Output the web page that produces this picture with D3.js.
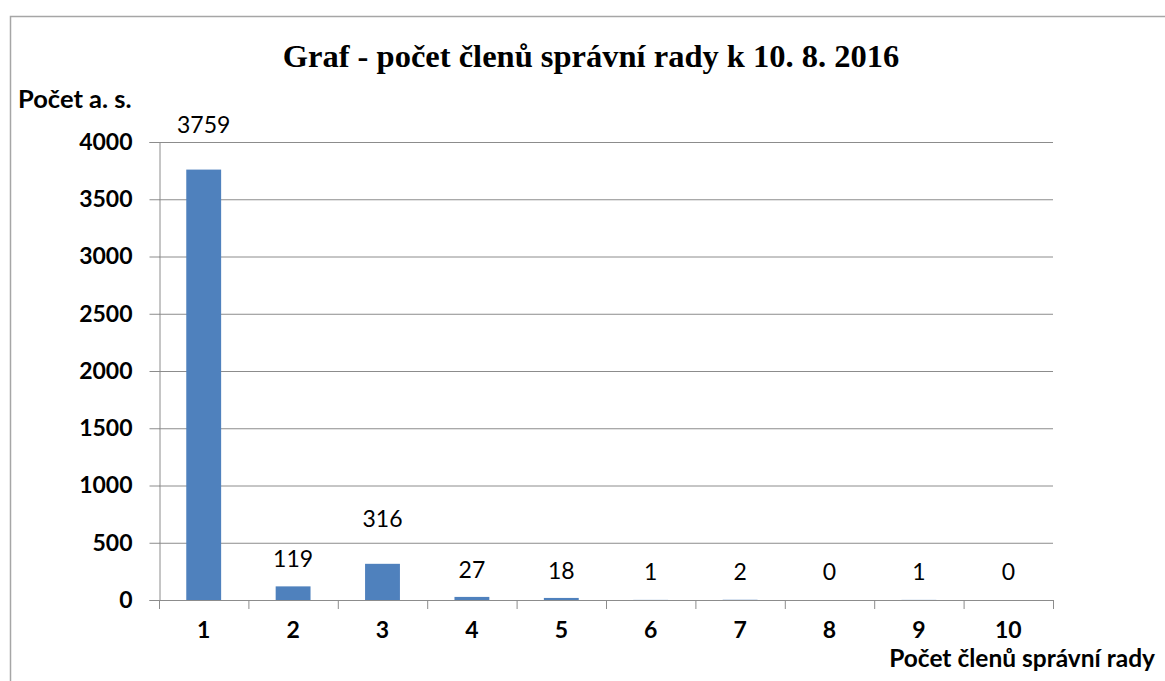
<!DOCTYPE html>
<html><head><meta charset="utf-8">
<script src="https://cdn.jsdelivr.net/npm/d3@7"></script>
<style>body{margin:0;background:#fff}</style>
</head><body>
<svg id="c" width="1165" height="681"></svg>
<script>
const categories = ["1","2","3","4","5","6","7","8","9","10"];
const values = [3759,119,316,27,18,1,2,0,1,0];
const yTicks = [0,500,1000,1500,2000,2500,3000,3500,4000];
const title = "Graf - počet členů správní rady k 10. 8. 2016";
const yTitle = "Počet a. s.";
const xTitle = "Počet členů správní rady";

(function(){
const svg = d3.select("#c");
const sansFont = "Lato, 'Open Sans', sans-serif";
const mLeft = 159, mRight = 1053, mTop = 142, mBottom = 600;

svg.append("rect").attr("x",10.5).attr("y",16.5).attr("width",1200).attr("height",700)
  .attr("fill","none").attr("stroke","#a6a6a6").attr("stroke-width",1.5);

const x = d3.scaleBand().domain(categories).range([mLeft,mRight]).paddingInner(0.61).paddingOuter(0.305);
const y = d3.scaleLinear().domain([0,4000]).range([mBottom,mTop]);

svg.append("g").selectAll("line").data(yTicks.filter(d=>d>0)).join("line")
  .attr("x1",mLeft).attr("x2",mRight).attr("y1",d=>y(d)+0.5).attr("y2",d=>y(d)+0.5)
  .attr("stroke","#8c8c8c").attr("stroke-width",1);

const ya = svg.append("g").attr("transform",`translate(${mLeft+0.5},0)`)
  .call(d3.axisLeft(y).tickValues(yTicks).tickFormat(d3.format("d")).tickSize(10).tickPadding(17));
ya.select(".domain").attr("stroke","#8c8c8c");
ya.selectAll(".tick line").attr("stroke","#8c8c8c");
ya.selectAll("text").attr("font-family",sansFont).attr("font-weight","bold").attr("font-size",23).attr("fill","#000");

svg.append("g").selectAll("rect").data(values).join("rect")
  .attr("x",(d,i)=>x(categories[i])).attr("width",x.bandwidth())
  .attr("y",d=>y(d)).attr("height",d=>mBottom-y(d))
  .attr("fill","#4f81bd");

const xa = svg.append("g").attr("transform",`translate(0,${mBottom+0.5})`)
  .call(d3.axisBottom(x).tickSize(0).tickPadding(21));
xa.select(".domain").attr("stroke","#8c8c8c").attr("d",`M${mLeft},0H${mRight}`);
xa.selectAll("text").attr("font-family",sansFont).attr("font-weight","bold").attr("font-size",23).attr("fill","#000");
const step = x.step();
svg.append("g").selectAll("line").data(d3.range(categories.length+1)).join("line")
  .attr("x1",i=>mLeft+i*step+0.5).attr("x2",i=>mLeft+i*step+0.5)
  .attr("y1",mBottom).attr("y2",mBottom+9).attr("stroke","#8c8c8c");

// data labels: outside end; larger bars have a wider gap, small ones sit on a common line
svg.append("g").selectAll("text").data(values).join("text")
  .attr("x",(d,i)=>x(categories[i])+x.bandwidth()/2)
  .attr("y",d=>d>=300 ? y(d)-37 : Math.min(y(d)-19, mBottom-20))
  .attr("text-anchor","middle").attr("font-family",sansFont).attr("font-size",23).attr("fill","#000")
  .text(d=>d);

svg.append("text").attr("x",591).attr("y",67).attr("text-anchor","middle")
  .attr("font-family","'Liberation Serif','Times New Roman',serif").attr("font-weight","bold").attr("font-size",32.5)
  .text(title);
svg.append("text").attr("x",18).attr("y",108).attr("font-family",sansFont).attr("font-weight","bold").attr("font-size",25.5).text(yTitle);
svg.append("text").attr("x",1155).attr("y",667).attr("text-anchor","end").attr("font-family",sansFont).attr("font-weight","bold").attr("font-size",24.5).text(xTitle);
})();
</script>
</body></html>
